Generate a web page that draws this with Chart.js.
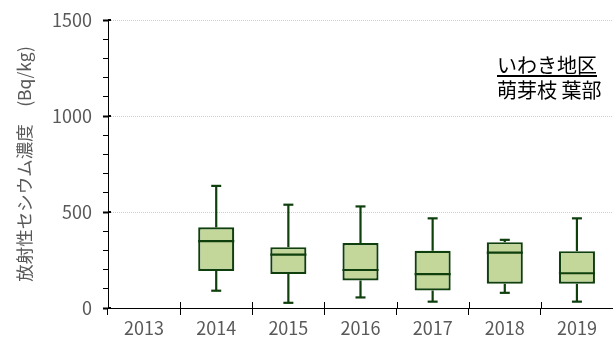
<!DOCTYPE html>
<html lang="ja">
<head>
  <meta charset="UTF-8" />
  <title>萌芽枝 葉部 放射性セシウム濃度</title>
  <script src="https://cdn.jsdelivr.net/npm/chart.js"></script>
  <style>
    body { margin: 0; background: #fff; }
    #wrap { position: relative; width: 613px; height: 341px; }
    #note {
      position: absolute; left: 497px; top: 52px;
      font-family: "Noto Sans CJK JP", sans-serif; font-size: 20px;
      line-height: 25px; color: #000;
    }
    #note .area { text-decoration: underline; text-underline-offset: 2px; }
  </style>
</head>
<body>
  <div id="wrap">
    <canvas id="boxChart" width="613" height="341"></canvas>
    <div id="note"><div class="area">いわき地区</div><div>萌芽枝 葉部</div></div>
  </div>

  <script>
    // yearly distribution of cesium concentration (Bq/kg)
    const years = ['2013', '2014', '2015', '2016', '2017', '2018', '2019'];
    const minVals = [null, 90, 27, 55, 33, 79, 33];
    const q1Vals = [null, 193, 177, 143, 91, 126, 126];
    const medianVals = [null, 348, 278, 198, 176, 288, 181];
    const q3Vals = [null, 420, 317, 338, 298, 343, 296];
    const maxVals = [null, 636, 538, 529, 467, 355, 467];

    const LINE = '#0f3f0c';
    const FILL = '#c4d79b';
    const TEXT = '#595959';
    const FONT = '"Noto Sans CJK JP", sans-serif';

    const seg = (ctx, x1, y1, x2, y2) => {
      ctx.beginPath(); ctx.moveTo(x1, y1); ctx.lineTo(x2, y2); ctx.stroke();
    };

    // whiskers, caps and median lines on top of the floating bars
    const whiskerPlugin = {
      id: 'whiskers',
      afterDatasetsDraw(chart) {
        const { ctx, scales: { x, y } } = chart;
        const bars = chart.getDatasetMeta(0).data;
        ctx.save();
        ctx.strokeStyle = LINE;
        ctx.lineWidth = 2.2;
        years.forEach((yr, i) => {
          if (medianVals[i] == null) return;
          const cx = x.getPixelForValue(i);
          const half = bars[i].width / 2;
          const cap = 5;
          seg(ctx, cx, y.getPixelForValue(q3Vals[i]), cx, y.getPixelForValue(maxVals[i]));
          seg(ctx, cx, y.getPixelForValue(q1Vals[i]), cx, y.getPixelForValue(minVals[i]));
          seg(ctx, cx - cap, y.getPixelForValue(maxVals[i]), cx + cap, y.getPixelForValue(maxVals[i]));
          seg(ctx, cx - cap, y.getPixelForValue(minVals[i]), cx + cap, y.getPixelForValue(minVals[i]));
          const my = y.getPixelForValue(medianVals[i]);
          seg(ctx, cx - half, my, cx + half, my);
        });
        ctx.restore();
      },
      // tick marks that cross the axis lines
      afterDraw(chart) {
        const { ctx, chartArea, scales: { x, y } } = chart;
        const step = x.getPixelForTick(1) - x.getPixelForTick(0);
        ctx.save();
        ctx.strokeStyle = '#000';
        ctx.lineWidth = 1;
        for (let i = 0; i <= years.length; i++) {
          const px = Math.round(x.getPixelForTick(0) - step / 2 + i * step) + 0.5;
          seg(ctx, px, chartArea.bottom - 6, px, chartArea.bottom);
        }
        ctx.lineWidth = 2;
        y.ticks.forEach(t => {
          if (t.value % 500 !== 0) return;
          const py = Math.round(y.getPixelForValue(t.value));
          seg(ctx, chartArea.left, py, chartArea.left + 3, py);
        });
        ctx.restore();
      }
    };

    new Chart(document.getElementById('boxChart'), {
      type: 'bar',
      data: {
        labels: years,
        datasets: [{
          data: years.map((_, i) => q1Vals[i] == null ? null : [q1Vals[i], q3Vals[i]]),
          backgroundColor: FILL,
          borderColor: LINE,
          borderWidth: 2.2,
          borderSkipped: false,
          barPercentage: 0.5,
          categoryPercentage: 1
        }]
      },
      options: {
        responsive: false,
        animation: false,
        layout: { padding: { top: 0, right: 0, left: 0, bottom: 0 } },
        plugins: { legend: { display: false }, tooltip: { enabled: false } },
        scales: {
          x: {
            grid: { drawOnChartArea: false, tickLength: 7, tickColor: '#000', offset: true },
            border: { color: '#000', width: 1 },
            ticks: { color: TEXT, font: { family: FONT, size: 18 }, padding: 2 },
            afterFit(scale) { scale.height = 33; }
          },
          y: {
            min: 0,
            max: 1500,
            grid: {
              color: ctx => (ctx.tick && ctx.tick.value > 0 && ctx.tick.value % 500 === 0) ? '#cfcfcf' : 'rgba(0,0,0,0)',
              tickColor: '#000',
              tickWidth: ctx => (ctx.tick && ctx.tick.value % 500 === 0) ? 2 : 1,
              tickLength: 5
            },
            border: { color: '#000', width: 1, dash: [1, 1] },
            ticks: {
              stepSize: 100,
              autoSkip: false,
              color: TEXT,
              font: { family: FONT, size: 18, lineHeight: 1 },
              padding: 11,
              callback: v => v % 500 === 0 ? v : ''
            },
            title: {
              display: true,
              text: '放射性セシウム濃度\u3000(Bq/kg)',
              color: TEXT,
              font: { family: FONT, size: 17.5 },
              padding: { top: 14, bottom: 0 }
            },
            afterFit(scale) { scale.width = 108; }
          }
        }
      },
      plugins: [whiskerPlugin]
    });
  </script>
</body>
</html>
